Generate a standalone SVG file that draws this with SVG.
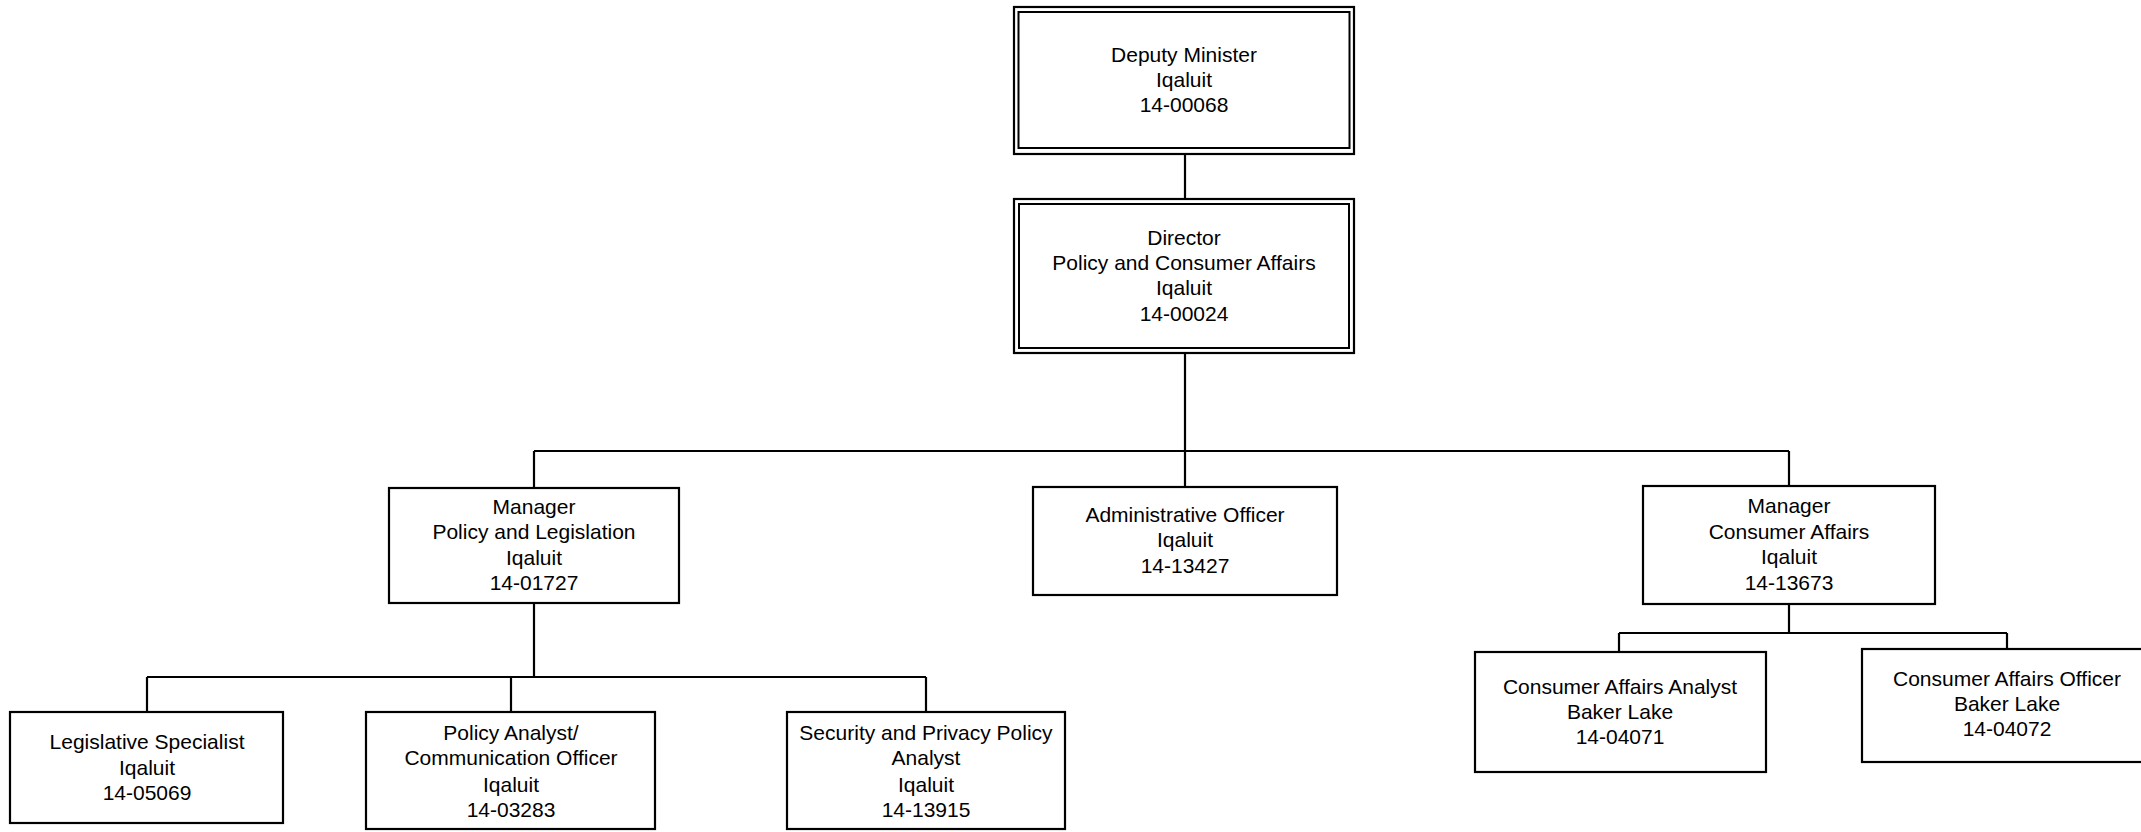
<svg xmlns="http://www.w3.org/2000/svg" width="2141" height="832" viewBox="0 0 2141 832">
<style>
.box{fill:#fff;stroke:#000;stroke-width:2.2}
.in{fill:none;stroke:#000;stroke-width:2}
.t{font-family:"Liberation Sans",Arial,sans-serif;font-size:21px;fill:#000;text-anchor:middle}
.c{stroke:#000;stroke-width:2.2;fill:none}
</style>
<rect width="2141" height="832" fill="#fff"/>
<g id="connectors">
<path class="c" d="M1185 154V199M1185 353V451M534 451H1789M534 451V488M1185 451V487M1789 451V486"/>
<path class="c" d="M534 603V677M147 677H926M147 677V712M511 677V712M926 677V712"/>
<path class="c" d="M1789 604V633M1619 633H2007M1619 633V653M2007 633V649"/>
</g>
<g id="deputy-minister">
<rect class="box" x="1014" y="7" width="340" height="147"/>
<rect class="in" x="1018.5" y="12" width="331" height="136"/>
<text class="t" x="1184" y="62">Deputy Minister</text>
<text class="t" x="1184" y="87">Iqaluit</text>
<text class="t" x="1184" y="112">14-00068</text>
</g>
<g id="director">
<rect class="box" x="1014" y="199" width="340" height="154"/>
<rect class="in" x="1019" y="204" width="330" height="144"/>
<text class="t" x="1184" y="245">Director</text>
<text class="t" x="1184" y="270">Policy and Consumer Affairs</text>
<text class="t" x="1184" y="295">Iqaluit</text>
<text class="t" x="1184" y="321">14-00024</text>
</g>
<g id="manager-policy">
<rect class="box" x="389" y="488" width="290" height="115"/>
<text class="t" x="534" y="514">Manager</text>
<text class="t" x="534" y="539">Policy and Legislation</text>
<text class="t" x="534" y="565">Iqaluit</text>
<text class="t" x="534" y="590">14-01727</text>
</g>
<g id="admin-officer">
<rect class="box" x="1033" y="487" width="304" height="108"/>
<text class="t" x="1185" y="522">Administrative Officer</text>
<text class="t" x="1185" y="547">Iqaluit</text>
<text class="t" x="1185" y="573">14-13427</text>
</g>
<g id="manager-consumer">
<rect class="box" x="1643" y="486" width="292" height="118"/>
<text class="t" x="1789" y="513">Manager</text>
<text class="t" x="1789" y="539">Consumer Affairs</text>
<text class="t" x="1789" y="564">Iqaluit</text>
<text class="t" x="1789" y="590">14-13673</text>
</g>
<g id="legislative-specialist">
<rect class="box" x="10" y="712" width="273" height="111"/>
<text class="t" x="147" y="749">Legislative Specialist</text>
<text class="t" x="147" y="775">Iqaluit</text>
<text class="t" x="147" y="800">14-05069</text>
</g>
<g id="policy-analyst">
<rect class="box" x="366" y="712" width="289" height="117"/>
<text class="t" x="511" y="740">Policy Analyst/</text>
<text class="t" x="511" y="765">Communication Officer</text>
<text class="t" x="511" y="792">Iqaluit</text>
<text class="t" x="511" y="817">14-03283</text>
</g>
<g id="security-analyst">
<rect class="box" x="787" y="712" width="278" height="117"/>
<text class="t" x="926" y="740">Security and Privacy Policy</text>
<text class="t" x="926" y="765">Analyst</text>
<text class="t" x="926" y="792">Iqaluit</text>
<text class="t" x="926" y="817">14-13915</text>
</g>
<g id="consumer-analyst">
<rect class="box" x="1475" y="652" width="291" height="120"/>
<text class="t" x="1620" y="694">Consumer Affairs Analyst</text>
<text class="t" x="1620" y="719">Baker Lake</text>
<text class="t" x="1620" y="744">14-04071</text>
</g>
<g id="consumer-officer">
<rect class="box" x="1862" y="649" width="290" height="113"/>
<text class="t" x="2007" y="686">Consumer Affairs Officer</text>
<text class="t" x="2007" y="711">Baker Lake</text>
<text class="t" x="2007" y="736">14-04072</text>
</g>
</svg>
